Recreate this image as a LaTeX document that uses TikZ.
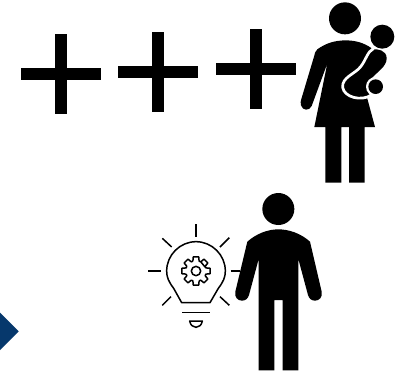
\documentclass[tikz,border=0pt]{standalone}
\tikzset{
  glyph/.style={fill=black,draw=none},
  plusbar/.style={fill=black,draw=none},
  thinline/.style={draw=black,line width=1.5pt,line cap=butt,line join=round,fill=none},
  zoomA/.style={shift={(290,0)},x=0.33333pt,y=-0.33333pt},
  zoomB/.style={shift={(140,190)},x=0.33333pt,y=-0.33333pt},
}
\newcommand{\plusat}[2]{%
  \fill[plusbar] (#1-40,#2-6) rectangle (#1+40,#2+6);
  \fill[plusbar] (#1-6,#2-40) rectangle (#1+6,#2+40);
}
\begin{document}
\begin{tikzpicture}[x=1pt,y=-1pt]
\useasboundingbox (0,0) rectangle (413,376);
\fill[white] (0,0) rectangle (413,376);
% plus signs
\plusat{61}{74}
\plusat{158.3}{71.7}
\plusat{255.5}{69.3}
% diamond
\fill[fill={rgb,255:red,6;green,56;blue,108}] (0,312.5) -- (18.7,331.3) -- (0,350) -- cycle;
% woman with child
\begin{scope}[zoomA]
  \fill[glyph] (165,55) circle (48);
  \fill[glyph] (277,110) circle (36);
  \fill[glyph] (82,148) .. controls (110,128) and (135,122) .. (165,121)
     .. controls (195,121) and (222,128) .. (245,145)
     -- (225,270) -- (255,381) -- (224,381) -- (224,548) -- (177,548) -- (177,381)
     -- (154,381) -- (154,548) -- (106,548) -- (106,381) -- (73,381)
     -- (112,190) -- (65,318)
     .. controls (58,333) and (38,333) .. (33,316)
     .. controls (31,308) and (32,303) .. (34,297)
     -- (72,170) .. controls (74,160) and (76,153) .. (82,148) -- cycle;
  \fill[glyph] (245,148) .. controls (262,146) and (290,150) .. (290,175)
     .. controls (290,200) and (262,215) .. (245,235)
     -- (238,290) .. controls (210,305) and (170,290) .. (165,262)
     .. controls (165,225) and (225,205) .. (245,148) -- cycle;
  \draw[white,line width=2.7pt,line cap=round]
     (250,146) .. controls (232,155) and (228,180) .. (212,200)
     .. controls (195,222) and (155,232) .. (158,262)
     .. controls (162,292) and (215,305) .. (244,285);
  \fill[white] (257,260) circle (29);
  \fill[glyph] (257,260) circle (22);
\end{scope}
% man
\begin{scope}[zoomB]
  \fill[glyph] (415,57) circle (48);
  \fill[glyph] (322,155) .. controls (350,130) and (385,118) .. (415,118)
     .. controls (447,118) and (482,130) .. (510,155)
     -- (545,305) .. controls (548,322) and (538,332) .. (525,332)
     .. controls (515,332) and (507,326) .. (504,315)
     -- (475,207) -- (475,541) -- (428,541) -- (428,330) -- (403,330) -- (403,541)
     -- (356,541) -- (356,207) -- (327,315)
     .. controls (324,326) and (316,332) .. (306,332)
     .. controls (293,332) and (283,322) .. (286,305) -- cycle;
  % light bulb
  \draw[thinline] (125,338) -- (210,338) -- (235,295)
     .. controls (250,275) and (256,262) .. (256,243)
     .. controls (256,195) and (216,155) .. (168,155)
     .. controls (120,155) and (80,195) .. (80,243)
     .. controls (80,262) and (86,275) .. (101,295) -- cycle;
  \foreach \a/\b/\c/\d in {168/103/168/140, 67/145/95/171, 268/143/240/171,
      25/243/62/243, 272/243/300/243, 67/346/93/320, 268/346/240/320, 127/367/210/367}
    \draw[thinline] (\a,\b) -- (\c,\d);
  \draw[thinline] (149,393) -- (187,393) .. controls (185,405) and (177,412) .. (168,412)
     .. controls (159,412) and (151,405) .. (149,393) -- cycle;
  % gear
  \draw[thinline] (168,243) circle (14);
  \begin{scope}[shift={(168,243)}]
    \draw[thinline]
      \foreach \k in {0,45,...,315} {
        (\k-22.5+5:31) -- (\k-11:43) -- (\k+11:43) -- (\k+22.5-5:31) -- (\k+22.5+5:31)
      } -- cycle;
  \end{scope}
\end{scope}
\end{tikzpicture}
\end{document}
